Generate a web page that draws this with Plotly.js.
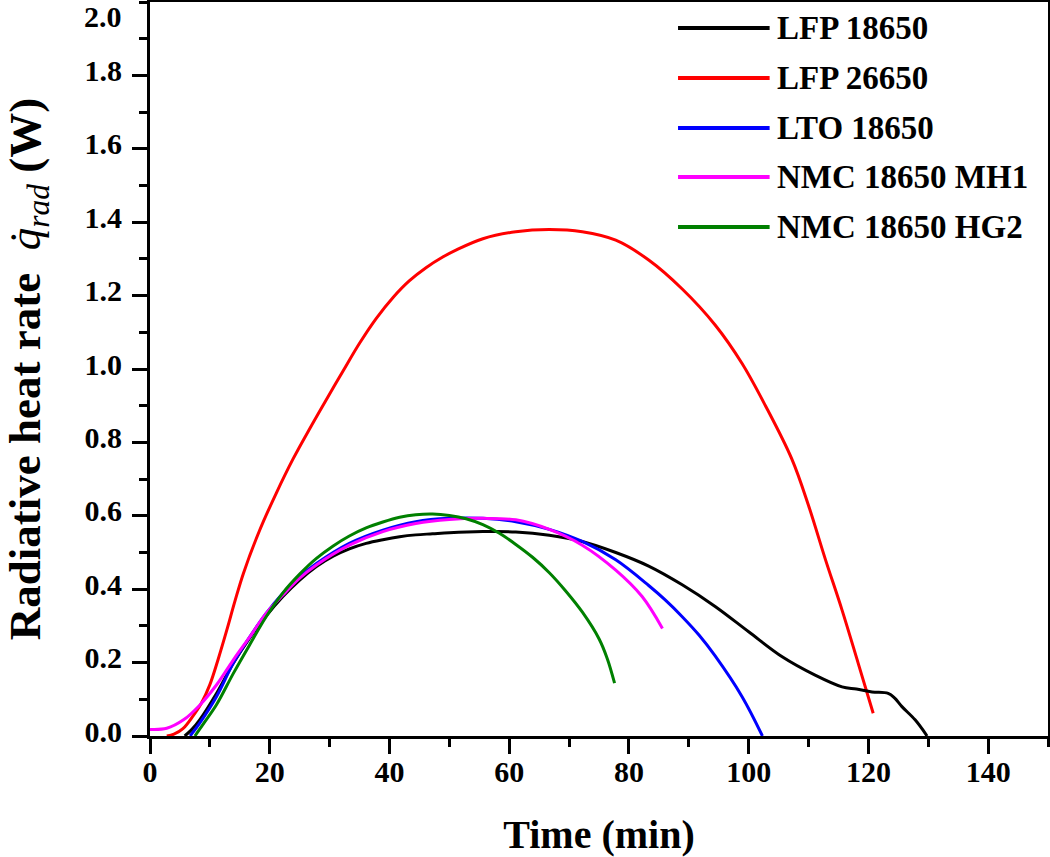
<!DOCTYPE html>
<html>
<head>
<meta charset="utf-8">
<script src="https://cdn.plot.ly/plotly-3.0.1.min.js"></script>
<style>html,body{margin:0;padding:0;background:#fff;}#chart{width:1050px;height:857px;}</style>
</head>
<body>
<div id="chart"></div>
<script>
// Series names
const seriesNames = ["LFP 18650", "LFP 26650", "LTO 18650", "NMC 18650 MH1", "NMC 18650 HG2"];

// LFP 18650 (black)
const lfp18650X = [5.8, 7, 8.3, 11.1, 13.9, 16.7, 19.4, 22.2, 25, 27.8, 30.6, 33.3, 36.1, 38.9, 41.7, 44.4, 47.2, 50, 55.6, 61.1, 66.7, 72.2, 77.8, 83.3, 88.9, 94.4, 100, 105.6, 111.1, 115.6, 118, 120.6, 123.3, 124.4, 125.6, 127.8, 129.8];
const lfp18650Y = [0, 0.018, 0.044, 0.116, 0.198, 0.268, 0.327, 0.38, 0.425, 0.462, 0.49, 0.51, 0.525, 0.535, 0.543, 0.548, 0.551, 0.554, 0.557, 0.556, 0.547, 0.53, 0.5, 0.463, 0.412, 0.353, 0.284, 0.216, 0.166, 0.134, 0.128, 0.12, 0.116, 0.103, 0.08, 0.044, 0];

// LFP 26650 (red)
const lfp26650X = [2.8, 4, 5.5, 7.2, 8.6, 10, 11.4, 12.8, 14.2, 15.6, 18.3, 21.1, 23.9, 26.7, 29.4, 32.2, 35, 37.8, 40.6, 43.3, 46.1, 48.9, 51.1, 55.6, 61.1, 66.7, 72.2, 77.8, 83.3, 88.9, 94.4, 98.9, 102.8, 107.2, 110, 112.8, 115.6, 118.3, 120.8];
const lfp26650Y = [0, 0.005, 0.02, 0.055, 0.09, 0.14, 0.21, 0.287, 0.368, 0.443, 0.56, 0.662, 0.755, 0.838, 0.915, 0.993, 1.07, 1.138, 1.195, 1.24, 1.276, 1.305, 1.324, 1.355, 1.374, 1.38, 1.374, 1.351, 1.297, 1.218, 1.12, 1.015, 0.9, 0.755, 0.628, 0.482, 0.343, 0.198, 0.062];

// LTO 18650 (blue)
const lto18650X = [6.7, 8.3, 11.1, 13.9, 16.7, 19.4, 22.2, 25, 27.8, 33.3, 38.9, 44.4, 50, 55.6, 61.1, 66.7, 72.2, 77.8, 83.3, 86.1, 88.9, 91.7, 94.4, 98.9, 102.3];
const lto18650Y = [0, 0.035, 0.107, 0.198, 0.271, 0.334, 0.389, 0.434, 0.47, 0.525, 0.561, 0.584, 0.593, 0.593, 0.584, 0.563, 0.53, 0.48, 0.41, 0.37, 0.325, 0.275, 0.218, 0.107, 0];

// NMC 18650 MH1 (magenta)
const mh1X = [0, 2.8, 5.6, 8.3, 11.1, 13.9, 16.7, 19.4, 22.2, 25, 27.8, 33.3, 38.9, 44.4, 50, 55.6, 61.1, 66.7, 72.2, 77.8, 82.2, 85.6];
const mh1Y = [0.018, 0.021, 0.044, 0.084, 0.139, 0.207, 0.271, 0.334, 0.384, 0.43, 0.466, 0.52, 0.557, 0.579, 0.59, 0.593, 0.589, 0.563, 0.52, 0.452, 0.38, 0.293];

// NMC 18650 HG2 (green)
const hg2X = [7.5, 9, 11.1, 13.9, 16.7, 19.4, 22.2, 25, 27.8, 30.6, 33.3, 36.1, 38.9, 41.7, 44.4, 47.2, 50, 52.8, 55.6, 58.3, 61.1, 63.9, 66.7, 69.4, 72.2, 75, 76.4, 77.6];
const hg2Y = [0, 0.035, 0.085, 0.17, 0.25, 0.325, 0.39, 0.441, 0.484, 0.518, 0.545, 0.567, 0.583, 0.596, 0.603, 0.605, 0.601, 0.592, 0.576, 0.553, 0.522, 0.487, 0.445, 0.396, 0.338, 0.265, 0.21, 0.144];

// Tick labels
const yTickVals = [0, 0.2, 0.4, 0.6, 0.8, 1.0, 1.2, 1.4, 1.6, 1.8];
const yTickText = ["0.0", "0.2", "0.4", "0.6", "0.8", "1.0", "1.2", "1.4", "1.6", "1.8"];
const yTopLabel = "2.0";
const xTickVals = [0, 20, 40, 60, 80, 100, 120, 140];
const xTickText = ["0", "20", "40", "60", "80", "100", "120", "140"];

const colors = ["#000000", "#ff0000", "#0000ff", "#ff00ff", "#008000"];
const xs = [lfp18650X, lfp26650X, lto18650X, mh1X, hg2X];
const ys = [lfp18650Y, lfp26650Y, lto18650Y, mh1Y, hg2Y];

const FONT = "Liberation Serif";

const traces = seriesNames.map((n, i) => ({
  type: "scatter", mode: "lines", name: n,
  x: xs[i], y: ys[i],
  line: {color: colors[i], width: 3, shape: "spline", smoothing: 1},
  showlegend: false, hoverinfo: "skip"
}));
const ordered = [traces[1], traces[0], traces[2], traces[3], traces[4]];

// Custom legend (layout decoration)
const legendY = [0.9646, 0.8965, 0.8283, 0.7616, 0.6935];
const shapes = seriesNames.map((n, i) => ({
  type: "line", xref: "paper", yref: "paper",
  x0: 0.588, x1: 0.690, y0: legendY[i], y1: legendY[i],
  line: {color: colors[i], width: 4}
}));
const annotations = seriesNames.map((n, i) => ({
  xref: "paper", yref: "paper", x: 0.696, y: legendY[i],
  xanchor: "left", yanchor: "middle", showarrow: false, text: n,
  font: {family: FONT, size: 33, color: "#000", weight: "bold"}
}));
annotations.push({
  xref: "paper", yref: "y", x: 0, y: 2.0, xanchor: "right", yanchor: "middle",
  xshift: -27, yshift: -14, showarrow: false, text: yTopLabel, borderpad: 0,
  font: {family: FONT, size: 30, color: "#000", weight: "bold"}
});

const axisCommon = {
  showline: true, linewidth: 3, linecolor: "#000", mirror: true,
  ticks: "outside", ticklen: 15, tickwidth: 3, tickcolor: "#000",
  showgrid: false, zeroline: false,
  tickfont: {family: FONT, size: 30, color: "#000", weight: "bold"}
};

const layout = {
  width: 1050, height: 857,
  margin: {l: 150, r: 2, t: 2, b: 121},
  paper_bgcolor: "#fff", plot_bgcolor: "#fff",
  xaxis: Object.assign({}, axisCommon, {
    range: [0, 150], tickmode: "array", tickvals: xTickVals, ticktext: xTickText,
    ticklabelposition: "outside", ticklabelstandoff: -8,
    minor: {dtick: 10, tick0: 0, ticks: "outside", ticklen: 8, tickwidth: 3, tickcolor: "#000", showgrid: false},
    title: {text: "Time (min)", font: {family: FONT, size: 40, color: "#000", weight: "bold"}, standoff: 33}
  }),
  yaxis: Object.assign({}, axisCommon, {
    range: [0, 2], tickmode: "array", tickvals: yTickVals, ticktext: yTickText,
    ticklabelposition: "outside", ticklabelstandoff: 4, ticklabelshift: -5,
    minor: {dtick: 0.1, tick0: 0, ticks: "outside", ticklen: 8, tickwidth: 3, tickcolor: "#000", showgrid: false},
    title: {text: "Radiative heat rate  <span style=\"font-weight:normal\"><i>q\u0307</i><sub><i>rad</i></sub></span> (W)", font: {family: FONT, size: 45, color: "#000", weight: "bold"}, standoff: 40}
  }),
  shapes: shapes,
  annotations: annotations,
  showlegend: false
};

Plotly.newPlot("chart", ordered, layout, {displayModeBar: false, staticPlot: true});
</script>
</body>
</html>
